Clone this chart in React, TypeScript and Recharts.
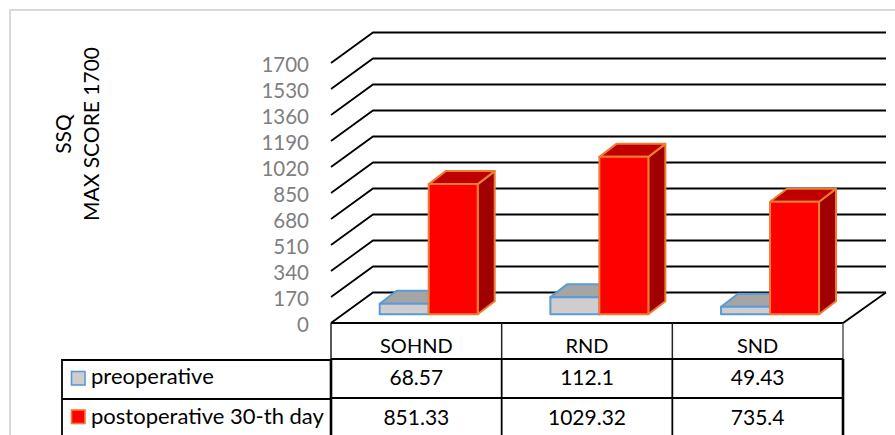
import { BarChart, Bar, XAxis, YAxis, CartesianGrid, Legend } from 'recharts';

const categories = ['SOHND', 'RND', 'SND'];
const preoperative = [68.57, 112.1, 49.43];
const postoperative = [851.33, 1029.32, 735.4];
const yTicks = [0, 170, 340, 510, 680, 850, 1020, 1190, 1360, 1530, 1700];
const seriesNames = ['preoperative', 'postoperative 30-th day'];

const chartData = categories.map((name, i) => ({
    name,
    preoperative: preoperative[i],
    postoperative: postoperative[i],
}));
const rows = [preoperative, postoperative];

const FONT = 'Lato, sans-serif';
const PLOT_TOP = 63;
const PLOT_BOTTOM = 323;
const WALL_DX = 42;
const WALL_DY = 30.5;
const COL_HALF = 85.33;

// one gridline: slant up the side wall, then across the back wall
function WallLine({ x1, y1, x2 }: any) {
    const backY = y1 - WALL_DY;
    const isFloor = y1 >= PLOT_BOTTOM - 0.5;
    return (
        <g stroke="#000" strokeWidth={1.8} fill="none">
            <polyline points={`${x1},${y1} ${x1 + WALL_DX},${backY} ${x2 + WALL_DX + 1},${backY}`} />
            {isFloor && <polyline points={`${x1},${y1} ${x2},${y1} ${x2 + WALL_DX + 1},${backY}`} />}
        </g>
    );
}

function make3dBar(front: string, top: string, side: string, edge: string) {
    return function Box3d({ x, y, width, height }: any) {
        // bars stand inside the floor, so they are pushed back from the front edge
        const left = x + 12.7;
        const right = left + width;
        const ty = y - 8.7;
        const by = ty + height;
        const dx = 17;
        const dy = 13;
        return (
            <g stroke={edge} strokeWidth={2} strokeLinejoin="round">
                <polygon points={`${right},${ty} ${right + dx},${ty - dy} ${right + dx},${by - dy} ${right},${by}`} fill={side} />
                <polygon points={`${left},${ty} ${left + dx},${ty - dy} ${right + dx},${ty - dy} ${right},${ty}`} fill={top} />
                <rect x={left} y={ty} width={width} height={height} fill={front} />
            </g>
        );
    };
}

const GrayBox = make3dBar('#cfcdce', '#a5a5a5', '#8c8c8c', '#5b9bd5');
const RedBox = make3dBar('#ff0000', '#bf0000', '#a00000', '#ed7d31');

// x axis tick draws the whole data table column for its category
function TableColumn({ x, payload, index }: any) {
    const left = x - COL_HALF;
    const right = x + COL_HALF;
    return (
        <g fontFamily={FONT} fontSize={21} fill="#000" textAnchor="middle">
            <line x1={left} x2={left} y1={323} y2={359} stroke="#222" strokeWidth={1.5} />
            <line x1={left} x2={left} y1={359} y2={435} stroke="#000" strokeWidth={index === 0 ? 2.6 : 1.8} />
            {index === categories.length - 1 && (
                <>
                    <line x1={right} x2={right} y1={323} y2={359} stroke="#555" strokeWidth={1.5} />
                    <line x1={right} x2={right} y1={359} y2={435} stroke="#000" strokeWidth={2.6} />
                </>
            )}
            <line x1={left} x2={right} y1={359} y2={359} stroke="#000" strokeWidth={1.8} />
            <line x1={left} x2={right} y1={398} y2={398} stroke="#000" strokeWidth={1.8} />
            <text x={x} y={353} fontSize={20}>{payload.value}</text>
            <text x={x} y={385}>{rows[0][index]}</text>
            <text x={x} y={425}>{rows[1][index]}</text>
        </g>
    );
}

const swatchStroke = ['#5b9bd5', '#ed7d31'];

function LegendCells({ payload }: any) {
    const items = seriesNames.map((name) => (payload || []).find((p: any) => p.value === name)).filter(Boolean);
    return (
        <svg width={270} height={76} style={{ display: 'block' }}>
            <g fontFamily={FONT} fontSize={22} fill="#000">
                <polyline points="1,76 1,1 270,1" fill="none" stroke="#000" strokeWidth={1.8} />
                <line x1={1} x2={270} y1={40} y2={40} stroke="#000" strokeWidth={1.8} />
                {items.map((item: any, i: number) => (
                    <g key={item.value}>
                        <rect
                            x={10.5}
                            y={12.5 + i * 38.5}
                            width={13.5}
                            height={13.5}
                            fill={item.color}
                            stroke={swatchStroke[i]}
                            strokeWidth={1.6}
                        />
                        <text x={30} y={25 + i * 40}>{item.value}</text>
                    </g>
                ))}
            </g>
        </svg>
    );
}

function AxisTitle() {
    return (
        <g fontFamily={FONT} fontSize={21} fill="#000" textAnchor="middle">
            <text transform="translate(71,134) rotate(-90)">SSQ</text>
            <text transform="translate(99,134) rotate(-90)">MAX SCORE 1700</text>
        </g>
    );
}

export default function App() {
    return (
        <div style={{ position: 'absolute', left: 0, top: 0, width: 895, height: 435, overflow: 'hidden', background: '#fff' }}>
            <div style={{ position: 'absolute', left: 9, top: 9, width: 1000, height: 600, border: '2px solid #d9d9d9' }} />
            <div style={{ position: 'absolute', left: 0, top: 0 }}>
                <BarChart
                    width={895}
                    height={435}
                    data={chartData}
                    margin={{ top: PLOT_TOP, right: 52, bottom: 0, left: 0 }}
                    barSize={49}
                    barGap={0}
                >
                    <CartesianGrid vertical={false} horizontal={(props: any) => <WallLine key={props.index} {...props} />} />
                    <XAxis dataKey="name" axisLine={false} tickLine={false} height={112} interval={0} tick={<TableColumn />} />
                    <YAxis
                        width={331}
                        domain={[0, 1700]}
                        ticks={yTicks}
                        interval={0}
                        axisLine={false}
                        tickLine={false}
                        tickMargin={16}
                        tick={{ fill: '#7f7f7f', fontSize: 20.5, fontFamily: FONT, dy: 1.5 }}
                        label={<AxisTitle />}
                    />
                    <Legend
                        layout="vertical"
                        align="center"
                        verticalAlign="middle"
                        wrapperStyle={{ left: 61, top: 359, width: 270, height: 76 }}
                        content={<LegendCells />}
                    />
                    <Bar name={seriesNames[0]} dataKey="preoperative" fill="#cfcdce" isAnimationActive={false} shape={GrayBox} />
                    <Bar name={seriesNames[1]} dataKey="postoperative" fill="#ff0000" isAnimationActive={false} shape={RedBox} />
                </BarChart>
            </div>
        </div>
    );
}
